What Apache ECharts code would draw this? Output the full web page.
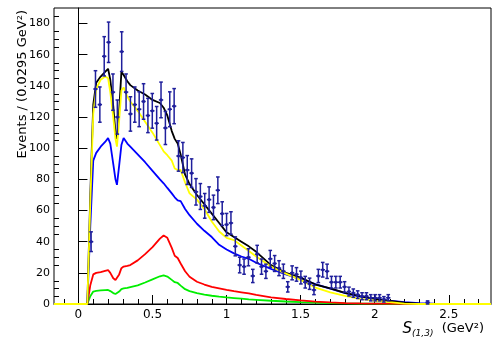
<!DOCTYPE html>
<html><head><meta charset="utf-8">
<script src="https://cdn.jsdelivr.net/npm/echarts@6/dist/echarts.min.js"></script>
<style>html,body{margin:0;padding:0;background:#fff}#c{width:500px;height:346px}</style>
</head><body><div id="c"></div>
<script>
// ---- data points (bin centres, bin width 0.0295 GeV^2) ----
const binCenters = [0.0855,0.115,0.1445,0.174,0.2035,0.233,0.2625,0.292,0.3215,0.351,0.3805,0.41,0.4395,0.469,0.4985,0.528,0.5575,0.587,0.6165,0.646,0.6755,0.705,0.7345,0.764,0.7935,0.823,0.8525,0.882,0.9115,0.941,0.9705,1.0,1.0295,1.059,1.0885,1.118,1.1475,1.177,1.2065,1.236,1.2655,1.295,1.3245,1.354,1.3835,1.413,1.4425,1.472,1.5015,1.531,1.5605,1.59,1.6195,1.649,1.6785,1.708,1.7375,1.767,1.7965,1.826,1.8555,1.885,1.9145,1.944,1.9735,2.003,2.0325,2.062,2.0915,2.357];
const counts = [40,138,128,159,168,136,120,162,136,122,128,125,130,121,124,116,131,113,125,127,95,94,86,84,72,69,63,67,62,73,58,51,52,37,25,24,30,18,32,24,21,29,26,23,21,11,20,19,17,14,13,9,18,22,21,14,14,14,11,8,7,6,5,5,4,4,4,3,4,1];
const binWidth = 0.0295;

// ---- fit curves ----
const curveX = [-0.165,0.06,0.08,0.1,0.12,0.15,0.18,0.2,0.215,0.235,0.25,0.26,0.275,0.29,0.305,0.33,0.35,0.4,0.45,0.5,0.55,0.575,0.6,0.63,0.65,0.67,0.69,0.72,0.75,0.8,0.85,0.9,0.95,1.0,1.05,1.1,1.15,1.2,1.3,1.4,1.5,1.6,1.7,1.8,1.9,2.0,2.1,2.2,2.3,2.4,2.5,2.785];
const totalFit = [0,0,70,128,142,146,149,151,144,127,110,106,124,149,147,143,140.5,137,134.5,131,129,126,121,111,106,103,96,83,77,70,64,58,52,46,43,40,37,33.5,25,20,17,12.5,10,7.2,5,3.3,2,0.8,0.3,0.1,0,0];
const yellowFit = [0,0,65,122,138,144,146,145,136,120,106,101,118,137,139,133,130,124,117,110,102,98,95.5,92,87,86,86,78,71,67,61,53,46.5,42.5,41,37.5,34,30.5,24,19.5,15.5,10.5,7.5,5.2,3.3,2.2,1.2,0.3,0,0,0,0];
const blueFit = [0,0,50,92,97,101,104,106.5,103,90,80,76.5,89,102,106.5,103,101,96,91,85.5,80,77.5,74.5,71,68.5,66.5,66,61,57,51.5,47,43,38,35,32.5,30.5,29,26.5,22.5,19,16,12.8,9.8,7,4.8,3.3,2.2,1.2,0.5,0.2,0,0];
const redFit = [0,0,12,19,20,20.5,21.3,21.8,20,16.5,15.4,15.8,19,23,24,24.5,25,28,32,36.5,42,44,42.5,36,31,29.5,26,21,17.5,14.3,12.5,11,10,9,8.2,7.5,6.8,5.8,4.3,3.2,2.3,1.5,1,0.6,0.4,0.3,0.2,0.1,0.05,0,0,0];
const greenFit = [0,0,5,8,8.4,8.7,8.9,9,8.3,7,6.4,6.6,8,9.6,10,10.3,10.8,12,13.8,15.8,17.8,18.4,17.6,15.5,14,13.5,11.8,9.5,8.3,7,6,5.3,4.7,4.2,3.8,3.4,3,2.7,2.1,1.6,1.2,0.9,0.6,0.4,0.3,0.2,0.15,0.1,0.05,0,0,0];

// ---- axis ticks ----
const xMinorTicks = [-0.1,0.1,0.2,0.3,0.4,0.6,0.7,0.8,0.9,1.1,1.2,1.3,1.4,1.6,1.7,1.8,1.9,2.1,2.2,2.3,2.4,2.6,2.7];
const yMinorTicks = [5,10,15,25,30,35,45,50,55,65,70,75,85,90,95,105,110,115,125,130,135,145,150,155,165,170,175,185];

const FONT = 'DejaVu Sans';
const chart = echarts.init(document.getElementById('c'), null, {renderer:'canvas'});
const pairs = ys => curveX.map((x,i)=>[x, ys[i]]);
const points = binCenters.map((x,i)=>[x, counts[i], Math.sqrt(counts[i])]);
const DATA_COLOR = '#1f1f9c';

function lineSeries(name, ys, color, z){
  return {name, type:'line', data:pairs(ys), showSymbol:false, symbol:'none', clip:false, z,
    lineStyle:{color, width:1.8}, emphasis:{disabled:true}, silent:true};
}

const option = {
  animation:false,
  grid:{left:54,right:9,top:8,bottom:42,show:true,borderColor:'#000',borderWidth:1,backgroundColor:'transparent'},
  xAxis:{type:'value',min:-0.165,max:2.785,splitNumber:6,
    axisLine:{show:true,onZero:false,lineStyle:{color:'#000',width:1}},
    axisTick:{show:true,inside:true,length:9,lineStyle:{color:'#000'}},
    minorTick:{show:false},
    splitLine:{show:false},
    axisLabel:{showMinLabel:false,showMaxLabel:false,color:'#000',fontSize:12,fontFamily:FONT,margin:5}},
  yAxis:{type:'value',min:0,max:190,interval:20,
    axisLine:{show:true,lineStyle:{color:'#000',width:1}},
    axisTick:{show:true,inside:true,length:9,lineStyle:{color:'#000'}},
    minorTick:{show:false},
    splitLine:{show:false},
    axisLabel:{showMinLabel:true,showMaxLabel:false,color:'#000',fontSize:11,fontFamily:FONT,margin:4}},
  graphic:[
    {type:'text', x:23, y:10, rotation:Math.PI/2,
      style:{text:'Events / (0.0295 GeV²)', fill:'#000', font:'13px "DejaVu Sans"', align:'right', verticalAlign:'middle'}},
    {type:'text', x:484, y:329,
      style:{text:'{s|S}{sub|(1,3)}{n|  (GeV²)}', align:'right', verticalAlign:'middle',
        rich:{s:{fontFamily:FONT,fontSize:15,fontStyle:'italic',fill:'#000',color:'#000'},
              sub:{fontFamily:FONT,fontSize:9,fontStyle:'italic',fill:'#000',color:'#000',padding:[9,0,0,0]},
              n:{fontFamily:FONT,fontSize:13,fill:'#000',color:'#000'}}}}
  ],
  series:[
    {type:'custom', silent:true, z:1, clip:false, data:xMinorTicks.map(v=>[v,0]),
      renderItem:(p,api)=>{const c=api.coord([api.value(0),0]);const x=Math.round(c[0])+0.5;
        return {type:'line',shape:{x1:x,y1:c[1],x2:x,y2:c[1]-5},style:{stroke:'#000',lineWidth:1}};}},
    {type:'custom', silent:true, z:1, clip:false, data:yMinorTicks.map(v=>[-0.165,v]),
      renderItem:(p,api)=>{const c=api.coord([-0.165,api.value(1)]);const y=Math.round(c[1])+0.5;
        return {type:'line',shape:{x1:c[0],y1:y,x2:c[0]+5,y2:y},style:{stroke:'#000',lineWidth:1}};}},
    lineSeries('green', greenFit, '#00ee00', 2),
    lineSeries('red', redFit, '#ff0000', 3),
    lineSeries('blue', blueFit, '#0000ff', 4),
    lineSeries('total', totalFit, '#000000', 5),
    lineSeries('yellow', yellowFit, '#ffff00', 6),
    {type:'custom', name:'data', silent:true, z:7, clip:false, data:points, encode:{x:0,y:1},
      renderItem:(p,api)=>{
        const x=api.value(0), y=api.value(1), e=api.value(2);
        const c=api.coord([x,y]);
        const l=api.coord([x-binWidth/2,y]), r=api.coord([x+binWidth/2,y]);
        const t=api.coord([x,y+e]), b=api.coord([x,Math.max(0,y-e)]);
        const st={stroke:DATA_COLOR,lineWidth:1.5};
        return {type:'group',children:[
          {type:'line',shape:{x1:l[0],y1:c[1],x2:r[0],y2:c[1]},style:st},
          {type:'line',shape:{x1:c[0],y1:t[1],x2:c[0],y2:b[1]},style:st},
          {type:'line',shape:{x1:c[0]-1.8,y1:t[1],x2:c[0]+1.8,y2:t[1]},style:st},
          {type:'line',shape:{x1:c[0]-1.8,y1:b[1],x2:c[0]+1.8,y2:b[1]},style:st},
          {type:'circle',shape:{cx:c[0],cy:c[1],r:1.6},style:{fill:DATA_COLOR}}
        ]};
      }}
  ]
};
chart.setOption(option);
</script></body></html>
